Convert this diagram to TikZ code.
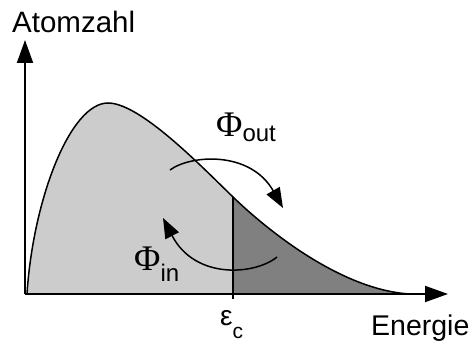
\documentclass[tikz,border=0pt]{standalone}
\usepackage{fontspec}
\setmainfont{Liberation Sans}
\newfontfamily\phifont{Liberation Serif}
\usetikzlibrary{arrows.meta}
\definecolor{distLight}{HTML}{CCCCCC}
\definecolor{distDark}{HTML}{808080}
\newcommand{\fluxsym}{{\phifont\fontsize{36}{36}\selectfont Φ}}
\newcommand{\subtxt}[2]{\raisebox{-#1}{\fontsize{24}{24}\selectfont #2}}

\begin{document}
\begin{tikzpicture}[x=1pt,y=-1pt,
    axis/.style={line width=2pt,-{Triangle[length=23pt,width=16pt]}},
    flux/.style={line width=1.5pt,-{Triangle[length=20pt,width=15pt]}},
    lbl/.style={inner sep=0pt,anchor=base west}]
  \useasboundingbox (0,0) rectangle (475,345);
  % points of the distribution
  \coordinate (origin) at (25,294);
  \coordinate (start) at (27,294);
  \coordinate (peak) at (108,103);
  \coordinate (cut) at (233,197);
  \coordinate (cutfoot) at (233,294);
  \coordinate (cutend) at (233,299);
  \coordinate (tail) at (410,294);
  \coordinate (ytip) at (25,40);
  \coordinate (xtip) at (448,294);
  % areas below and above the cut
  \fill[distLight] (start) .. controls (33,200) and (70,103) .. (peak)
    .. controls (140,103) and (200,165) .. (cut) -- (cutfoot) -- cycle;
  \fill[distDark] (cut) .. controls (265,228) and (340,290) .. (tail)
    -- (cutfoot) -- cycle;
  \draw[line width=1.5pt] (start) .. controls (33,200) and (70,103) .. (peak)
    .. controls (140,103) and (200,165) .. (cut)
    .. controls (265,228) and (340,290) .. (tail);
  \draw[line width=1.3pt] (cut) -- (cutend);
  % axes
  \draw[axis] (origin) -- (ytip);
  \draw[axis] (origin) -- (xtip);
  % flux arrows
  \coordinate (outA) at (170,170);
  \coordinate (outB) at (283,208);
  \coordinate (inA) at (277,257);
  \coordinate (inB) at (163,218);
  \draw[flux] (outA) .. controls (190,155) and (250,150) .. (outB);
  \draw[flux] (inA) .. controls (255,275) and (195,280) .. (inB);
  % labels
  \node[lbl,font=\fontsize{29.5}{30}\selectfont] (ylabel) at (12,33) {Atomzahl};
  \node[lbl,font=\fontsize{28.5}{30}\selectfont] (xlabel) at (371,335) {Energie};
  \node[lbl,font=\fontsize{28}{30}\selectfont] (ecut) at (220,326)
    {ε\raisebox{-13pt}{\fontsize{21}{21}\selectfont c}};
  \node[lbl] (phiout) at (216,137) {\fluxsym\subtxt{5pt}{out}};
  \node[lbl] (phiin) at (134,271) {\fluxsym\subtxt{10pt}{in}};
\end{tikzpicture}
\end{document}
